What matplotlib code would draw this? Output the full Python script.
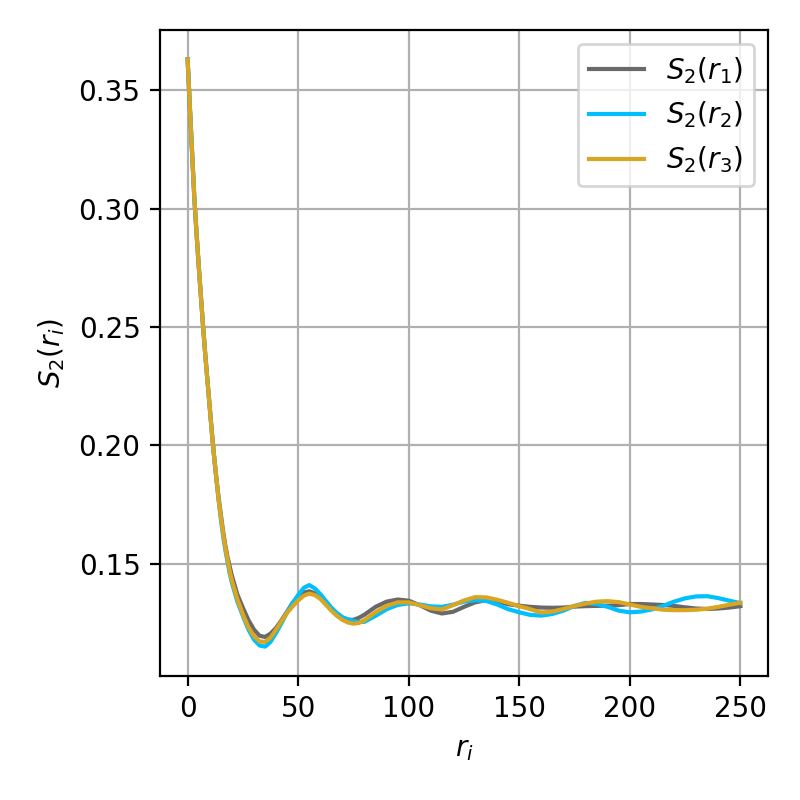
import matplotlib
matplotlib.use("Agg")
import matplotlib.pyplot as plt
import numpy as np

# distances r_i
r = np.array([0, 1, 2, 3, 4, 5, 6, 7, 8, 9, 10, 11, 12, 13, 14, 15, 16, 17, 18, 19, 20,
              22.5, 25, 27.5, 30, 32.5, 35, 37.5, 40, 42.5, 45, 47.5, 50, 52.5, 55, 57.5,
              60, 62.5, 65, 67.5, 70, 72.5, 75, 77.5, 80,
              85, 90, 95, 100, 105, 110, 115, 120, 125, 130, 135, 140, 145, 150, 155,
              160, 165, 170, 175, 180, 185, 190, 195, 200, 205, 210, 215, 220, 225,
              230, 235, 240, 245, 250])

# S2 decay, shared start
s_head1 = [0.363, 0.343, 0.324, 0.305, 0.290, 0.276, 0.263, 0.250, 0.238, 0.227, 0.216,
           0.205, 0.195, 0.186, 0.178, 0.171, 0.164, 0.158, 0.153, 0.149, 0.145]
s_head2 = [0.363, 0.343, 0.324, 0.305, 0.290, 0.276, 0.263, 0.250, 0.238, 0.227, 0.216,
           0.205, 0.195, 0.186, 0.177, 0.169, 0.162, 0.156, 0.151, 0.146, 0.142]
s_head3 = [0.363, 0.343, 0.324, 0.305, 0.290, 0.276, 0.263, 0.250, 0.238, 0.227, 0.216,
           0.205, 0.195, 0.186, 0.177, 0.170, 0.163, 0.157, 0.152, 0.147, 0.143]

s_tail1 = [0.1370, 0.1314, 0.1262, 0.1222, 0.1196, 0.1191, 0.1205, 0.1229, 0.1262, 0.1298,
           0.1335, 0.1360, 0.1378, 0.1384, 0.1375, 0.1357, 0.1333, 0.1310, 0.1290, 0.1273,
           0.1264, 0.1263, 0.1272, 0.1285,
           0.1318, 0.1340, 0.1349, 0.1344, 0.1325, 0.1302, 0.1290, 0.1297, 0.1318, 0.1337,
           0.1346, 0.1340, 0.1329, 0.1323, 0.1318, 0.1315, 0.1314, 0.1315, 0.1319, 0.1321,
           0.1322, 0.1323, 0.1325, 0.1330, 0.1330, 0.1328, 0.1326, 0.1322, 0.1316, 0.1311,
           0.1309, 0.1311, 0.1315, 0.1321]
s_tail2 = [0.1340, 0.1279, 0.1222, 0.1180, 0.1155, 0.1150, 0.1170, 0.1208, 0.1250, 0.1295,
           0.1335, 0.1368, 0.1398, 0.1410, 0.1396, 0.1372, 0.1343, 0.1315, 0.1292, 0.1274,
           0.1265, 0.1258, 0.1254, 0.1255,
           0.1280, 0.1308, 0.1326, 0.1333, 0.1328, 0.1320, 0.1318, 0.1327, 0.1340, 0.1346,
           0.1343, 0.1328, 0.1308, 0.1295, 0.1284, 0.1281, 0.1288, 0.1302, 0.1322, 0.1335,
           0.1330, 0.1318, 0.1302, 0.1295, 0.1298, 0.1307, 0.1322, 0.1340, 0.1354, 0.1362,
           0.1363, 0.1355, 0.1344, 0.1334]
s_tail3 = [0.1350, 0.1286, 0.1232, 0.1194, 0.1172, 0.1170, 0.1188, 0.1222, 0.1258, 0.1293,
           0.1320, 0.1345, 0.1365, 0.1374, 0.1368, 0.1352, 0.1327, 0.1302, 0.1280, 0.1263,
           0.1252, 0.1247, 0.1250, 0.1262,
           0.1295, 0.1322, 0.1337, 0.1337, 0.1325, 0.1312, 0.1307, 0.1325, 0.1345, 0.1359,
           0.1358, 0.1348, 0.1335, 0.1321, 0.1308, 0.1294, 0.1298, 0.1309, 0.1322, 0.1332,
           0.1340, 0.1342, 0.1338, 0.1328, 0.1318, 0.1312, 0.1306, 0.1304, 0.1304, 0.1306,
           0.1310, 0.1318, 0.1327, 0.1335]

s1 = np.array(s_head1 + s_tail1)
s2 = np.array(s_head2 + s_tail2)
s3 = np.array(s_head3 + s_tail3)

fig = plt.figure(figsize=(4, 4), dpi=200)
ax = fig.add_subplot()
fig.subplots_adjust(left=0.2, right=0.96, bottom=0.155, top=0.9625)

ax.plot(r, s1, color='dimgray', label=r'$S_2(r_1)$')
ax.plot(r, s2, color='deepskyblue', label=r'$S_2(r_2)$')
ax.plot(r, s3, color='goldenrod', label=r'$S_2(r_3)$')

ax.set_xlabel(r'$r_i$')
ax.set_ylabel(r'$S_2(r_i)$')
ax.grid(True)
ax.legend(loc='upper right')

fig.savefig('out.png', dpi=200)
